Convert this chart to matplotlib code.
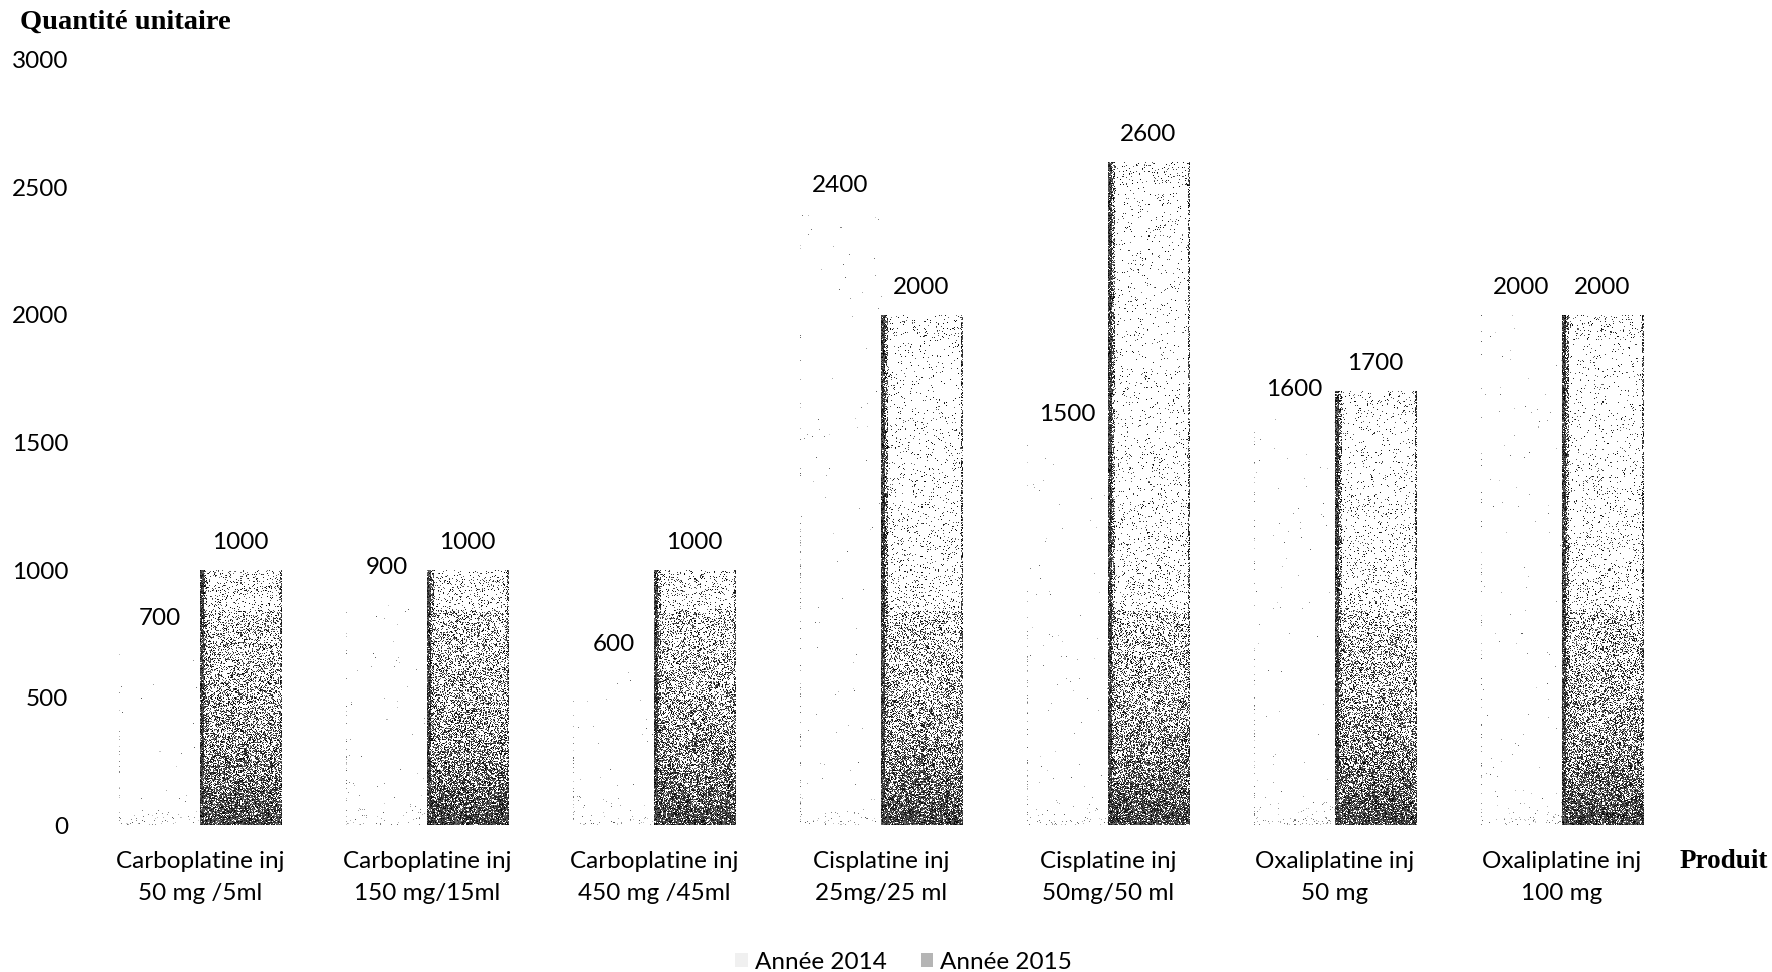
import numpy as np
import matplotlib
matplotlib.use("Agg")
import matplotlib.pyplot as plt
from matplotlib.patches import Patch

# ---- data -------------------------------------------------------------
products = [
    "Carboplatine inj\n50 mg /5ml",
    "Carboplatine inj\n150 mg/15ml",
    "Carboplatine inj\n450 mg /45ml",
    "Cisplatine inj\n25mg/25 ml",
    "Cisplatine inj\n50mg/50 ml",
    "Oxaliplatine inj\n50 mg",
    "Oxaliplatine inj\n100 mg",
]
qty_2014 = [700, 900, 600, 2400, 1500, 1600, 2000]
qty_2015 = [1000, 1000, 1000, 2000, 2600, 1700, 2000]
series_names = ["Année 2014", "Année 2015"]
y_ticks = [0, 500, 1000, 1500, 2000, 2500, 3000]

SANS = "Lato"
SERIF = "Liberation Serif"
FS = 17.5

fig = plt.figure(figsize=(17.72, 9.72), dpi=100)
ax = fig.add_axes([0.0488, 0.1512, 0.8967, 0.7871])
ax.set_xlim(-0.5, len(products) - 0.5)
ax.set_ylim(0, 3000)

x = np.arange(len(products))
w = 0.357

bars14 = ax.bar(x - w / 2, qty_2014, w, facecolor="none", edgecolor="none")
bars15 = ax.bar(x + w / 2, qty_2015, w, facecolor="none", edgecolor="none")

rng = np.random.default_rng(7)

# pixel scale of the data area
p0 = ax.transData.transform((0, 0))
p1 = ax.transData.transform((1, 1000))
px_per_x = p1[0] - p0[0]
px_per_unit = (p1[1] - p0[1]) / 1000.0


def stipple_image(height, dense):
    """Grainy grey texture for one bar (rows top -> bottom)."""
    h = max(int(round(height * px_per_unit)), 2)
    wpx = max(int(round(w * px_per_x)), 2)
    vals = (np.arange(h)[::-1] + 0.5) / px_per_unit
    if dense:
        dens = 0.03 + 0.72 * np.exp(-vals / 380.0) + 0.14 * (vals < 840)
        dens += 0.04 * (vals > height - 90)
    else:
        dens = 0.002 + 0.08 * np.exp(-vals / 35.0)
    dens = np.repeat(dens[:, None], wpx, axis=1)
    if dense:
        dens[:, :4] = 0.92
        dens[:, 4:7] = np.maximum(dens[:, 4:7], 0.5)
        dens[:, -2:] = np.maximum(dens[:, -2:], 0.6)
        lo, hi = 0.0, 0.45
    else:
        edge = vals < height * 0.5
        dens[:, 0] = np.where(edge, 0.18, 0.05)
        lo, hi = 0.35, 0.8
    hit = rng.random((h, wpx)) < dens
    shade = rng.uniform(lo, hi, (h, wpx))
    img = np.ones((h, wpx, 4))
    g = np.where(hit, shade, 1.0)
    img[..., 0] = g
    img[..., 1] = g
    img[..., 2] = g
    return img


for bars, dense in ((bars14, False), (bars15, True)):
    for b in bars:
        l, hgt, bw = b.get_x(), b.get_height(), b.get_width()
        im = ax.imshow(stipple_image(hgt, dense), extent=(l, l + bw, 0, hgt),
                       aspect="auto", interpolation="nearest", zorder=2)
        im.set_clip_path(b)

ax.set_xlim(-0.5, len(products) - 0.5)
ax.set_ylim(0, 3000)

# value labels above each bar
for bars, vals in ((bars14, qty_2014), (bars15, qty_2015)):
    for b, v in zip(bars, vals):
        ax.annotate(f"{v}", (b.get_x() + b.get_width() / 2, v),
                    xytext=(0, 20), textcoords="offset points",
                    ha="center", va="center", fontsize=FS,
                    family=SANS, color="black")

for s in ax.spines.values():
    s.set_visible(False)
ax.set_yticks(y_ticks)
ax.set_yticklabels([str(t) for t in y_ticks], family=SANS, fontsize=FS)
ax.set_xticks(x)
ax.set_xticklabels(products, family=SANS, fontsize=FS, linespacing=1.6)
ax.tick_params(axis="both", length=0, colors="black")
ax.tick_params(axis="y", pad=13)
ax.tick_params(axis="x", pad=19)

fig.text(0.0113, 0.977, "Quantité unitaire", family=SERIF, weight="bold",
         fontsize=20.5, ha="left", va="center")
fig.text(0.9977, 0.114, "Produit", family=SERIF, weight="bold",
         fontsize=19.5, ha="right", va="center")

handles = [Patch(facecolor="#f0f0f0", edgecolor="none"),
           Patch(facecolor="#b5b5b5", edgecolor="none")]
fig.legend(handles, series_names, loc="center", bbox_to_anchor=(0.51, 0.01),
           ncol=2, frameon=False, prop={"family": SANS, "size": FS},
           handlelength=0.5, handleheight=0.5, handletextpad=0.3,
           columnspacing=1.4, borderpad=0)

fig.savefig("out.png", dpi=100, facecolor="white")
